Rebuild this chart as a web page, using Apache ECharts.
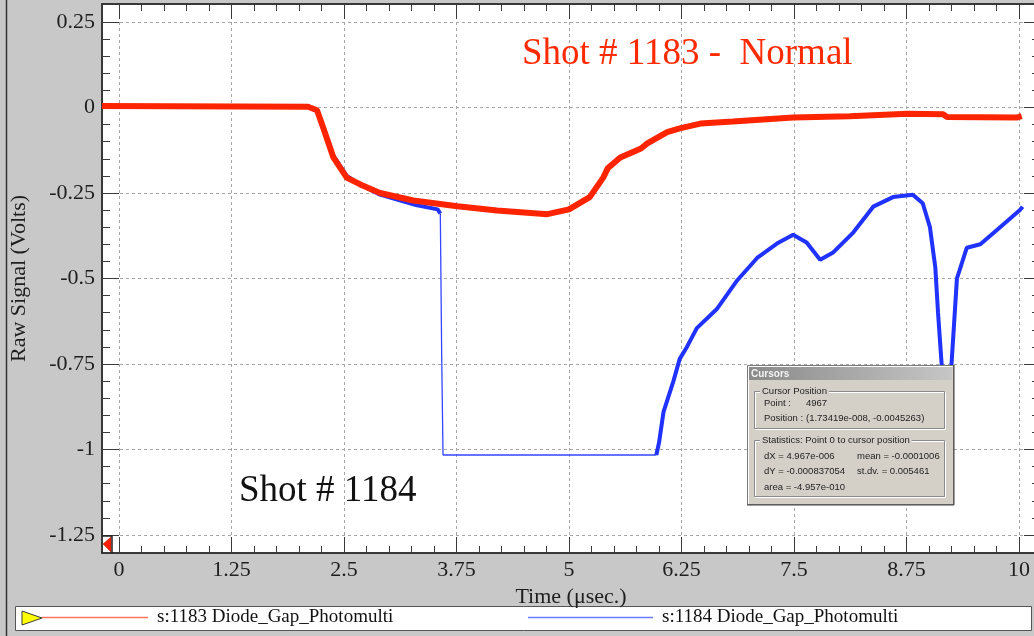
<!doctype html>
<html lang="en">
<head>
<meta charset="utf-8">
<title>Shot # 1183 / 1184 Diode_Gap_Photomulti</title>
<script src="https://cdn.jsdelivr.net/npm/echarts@6.0.0/dist/echarts.min.js"></script>
<style>
  html, body { margin: 0; padding: 0; background: #c8c8c8; }
  #chart { width: 1034px; height: 636px; }
</style>
</head>
<body>
<div id="chart"></div>
<script>
// values: time in usec, signal in volts
var time1183 = [-0.19, 2.1, 2.2, 2.27, 2.38, 2.53, 2.68, 2.9, 3.27, 3.76, 4.2, 4.76, 5.0, 5.23, 5.38, 5.43, 5.57, 5.8, 5.87, 6.09, 6.23, 6.46, 6.82, 7.49, 8.12, 8.76, 9.16, 9.2, 9.98, 10.03];
var signal1183 = [0.004, 0.002, -0.008, -0.06, -0.145, -0.205, -0.225, -0.25, -0.272, -0.289, -0.301, -0.312, -0.298, -0.262, -0.205, -0.178, -0.146, -0.12, -0.105, -0.072, -0.061, -0.047, -0.041, -0.029, -0.026, -0.018, -0.02, -0.028, -0.029, -0.025];

// shot 1184: before the drop, the saturated part, and the recovery
var time1184a = [-0.19, 2.1, 2.2, 2.27, 2.38, 2.53, 2.68, 2.9, 3.1, 3.3, 3.54, 3.57];
var signal1184a = [0.003, 0.002, -0.01, -0.06, -0.14, -0.2, -0.225, -0.255, -0.27, -0.285, -0.298, -0.31];
var time1184sat = [3.57, 3.585, 3.6, 5.97];
var signal1184sat = [-0.31, -0.72, -1.016, -1.016];
var time1184b = [5.97, 6.0, 6.05, 6.16, 6.23, 6.31, 6.42, 6.64, 6.87, 7.09, 7.31, 7.49, 7.64, 7.79, 7.93, 8.16, 8.38, 8.6, 8.82, 8.93, 9.01, 9.07, 9.1, 9.14, 9.19, 9.25, 9.31, 9.42, 9.57, 9.79, 10.01, 10.04];
var signal1184b = [-1.016, -0.98, -0.89, -0.8, -0.735, -0.7, -0.645, -0.59, -0.505, -0.44, -0.398, -0.372, -0.395, -0.445, -0.425, -0.365, -0.29, -0.262, -0.255, -0.28, -0.35, -0.468, -0.6, -0.75, -0.95, -0.75, -0.5, -0.41, -0.4, -0.35, -0.3, -0.29];

var xTicks = [0, 1.25, 2.5, 3.75, 5, 6.25, 7.5, 8.75, 10];
var yTicks = [-1.25, -1, -0.75, -0.5, -0.25, 0, 0.25];

var name1183 = 's:1183 Diode_Gap_Photomulti';
var name1184 = 's:1184 Diode_Gap_Photomulti';

var X_MIN = -0.189, X_MAX = 10.233;
var Y_MIN = -1.3025, Y_MAX = 0.3025;

var serif = "'Liberation Serif', 'Times New Roman', serif";
var sans = "'Liberation Sans', Arial, sans-serif";

function pairs(xs, ys) {
  return xs.map(function (x, i) { return [x, ys[i]]; });
}

// 4 minor ticks between two major ticks
function minorOf(ticks) {
  var out = [];
  for (var i = 0; i < ticks.length - 1; i++) {
    var step = (ticks[i + 1] - ticks[i]) / 5;
    for (var j = 1; j < 5; j++) out.push(+(ticks[i] + j * step).toFixed(4));
  }
  return out;
}
var xMinor = minorOf(xTicks);
var yMinor = minorOf(yTicks);

function tickAxis(pos, min, max, ticks, len, withLine) {
  return {
    type: 'value', position: pos, min: min, max: max,
    axisLine: { show: withLine, onZero: false, lineStyle: { color: '#2e2e2e', width: 1.5 } },
    axisTick: { show: true, customValues: ticks, inside: true, length: len, lineStyle: { color: '#3a3a3a', width: 1 } },
    axisLabel: { show: false },
    splitLine: { show: false }
  };
}

var chart = echarts.init(document.getElementById('chart'), null, { renderer: 'canvas' });

var xMain = tickAxis('bottom', X_MIN, X_MAX, xTicks, 16, true);
xMain.axisLabel = { show: true, customValues: xTicks, margin: 6, color: '#1e1e1e', fontFamily: serif, fontSize: 22 };
xMain.splitLine = { show: true, lineStyle: { type: [3, 3], color: '#a6a6a6', width: 1 } };
xMain.name = 'Time (\u03bcsec.)';
xMain.nameLocation = 'middle';
xMain.nameGap = 25;
xMain.nameTextStyle = { color: '#1e1e1e', fontFamily: serif, fontSize: 22 };

var yMain = tickAxis('left', Y_MIN, Y_MAX, yTicks, 17, true);
yMain.axisLabel = { show: true, customValues: yTicks, margin: 7, color: '#1e1e1e', fontFamily: serif, fontSize: 22 };
yMain.splitLine = { show: true, lineStyle: { type: [3, 3], color: '#a6a6a6', width: 1 } };
yMain.name = 'Raw Signal (Volts)';
yMain.nameLocation = 'middle';
yMain.nameGap = 72;
yMain.nameTextStyle = { color: '#1e1e1e', fontFamily: serif, fontSize: 22 };

var option = {
  backgroundColor: '#c8c8c8',
  animation: false,
  grid: {
    left: 102, right: -6, top: 4, bottom: 83,
    outerBoundsMode: 'none', containLabel: false,
    show: true, backgroundColor: '#ffffff', borderColor: '#2e2e2e', borderWidth: 1.5
  },
  xAxis: [
    xMain,
    tickAxis('bottom', X_MIN, X_MAX, xMinor, 7, false),
    tickAxis('top', X_MIN, X_MAX, xTicks, 15, true),
    tickAxis('top', X_MIN, X_MAX, xMinor, 7, false)
  ],
  yAxis: [
    yMain,
    tickAxis('left', Y_MIN, Y_MAX, yMinor, 8, false),
    tickAxis('right', Y_MIN, Y_MAX, yTicks, 16, true),
    tickAxis('right', Y_MIN, Y_MAX, yMinor, 8, false)
  ],
  legend: [
    {
      left: 42, top: 608, padding: 0, itemWidth: 106, itemHeight: 1.5, itemGap: 0,
      selectedMode: false,
      textStyle: { fontFamily: serif, fontSize: 19, color: '#111', padding: [0, 0, 0, 4] },
      data: [{ name: name1183, icon: 'rect', itemStyle: { color: '#ff7660' } }]
    },
    {
      left: 528, top: 608, padding: 0, itemWidth: 125, itemHeight: 1.5, itemGap: 0,
      selectedMode: false,
      textStyle: { fontFamily: serif, fontSize: 19, color: '#111', padding: [0, 0, 0, 4] },
      data: [{ name: name1184, icon: 'rect', itemStyle: { color: '#6b7bff' } }]
    }
  ],
  series: [
    {
      name: name1184, type: 'line', data: pairs(time1184a, signal1184a),
      showSymbol: false, lineStyle: { color: '#1f32ff', width: 4 }, itemStyle: { color: '#1f32ff' }, z: 2
    },
    {
      name: name1184, type: 'line', data: pairs(time1184sat, signal1184sat),
      showSymbol: false, lineStyle: { color: '#3446ff', width: 1.3 }, itemStyle: { color: '#3446ff' }, z: 2
    },
    {
      name: name1184, type: 'line', data: pairs(time1184b, signal1184b),
      showSymbol: false, lineStyle: { color: '#1f32ff', width: 4 }, itemStyle: { color: '#1f32ff' }, z: 2
    },
    {
      name: name1183, type: 'line', data: pairs(time1183, signal1183),
      showSymbol: false, lineStyle: { color: '#ff2400', width: 6 }, itemStyle: { color: '#ff2400' }, z: 3
    }
  ],
  graphic: [
    // outer frame line on the left
    { type: 'line', shape: { x1: 6.5, y1: 0, x2: 6.5, y2: 636 }, style: { stroke: '#333', lineWidth: 1.5 }, z: 10 },
    // legend box
    { type: 'rect', shape: { x: 15.5, y: 606.5, width: 1016, height: 24 }, style: { fill: '#fff', stroke: '#555', lineWidth: 1 }, z: 0 },
    { type: 'polygon', shape: { points: [[22, 611], [22, 625], [42, 618]] }, style: { fill: '#ffff00', stroke: '#3a3a3a', lineWidth: 1 }, z: 10 },
    // cursor marker at bottom left of the plot
    { type: 'polygon', shape: { points: [[103, 544], [111, 537], [111, 552]] }, style: { fill: '#ff2000', stroke: '#b01000', lineWidth: 0.5 }, z: 10 },
    { type: 'line', shape: { x1: 112, y1: 536, x2: 112, y2: 553 }, style: { stroke: '#222', lineWidth: 1.5 }, z: 10 },
    { type: 'line', shape: { x1: 102, y1: 536, x2: 112, y2: 536 }, style: { stroke: '#222', lineWidth: 1.5 }, z: 10 },
    // annotations
    { type: 'text', x: 522, y: 54, style: { text: 'Shot # 1183 -  Normal', fill: '#ff2a00', font: '37px ' + serif, verticalAlign: 'middle' }, z: 10 },
    { type: 'text', x: 239, y: 491, style: { text: 'Shot # 1184', fill: '#111', font: '37px ' + serif, verticalAlign: 'middle' }, z: 10 },
    // the "Cursors" dialog
    {
      type: 'group', x: 747, y: 365, z: 100,
      children: [
        { type: 'rect', shape: { x: 0.5, y: 0.5, width: 206, height: 139 }, style: { fill: '#d4d0c8', stroke: '#7a7a7a', lineWidth: 1 }, z: 100 },
        { type: 'line', shape: { x1: 1.5, y1: 1.5, x2: 205.5, y2: 1.5 }, style: { stroke: '#fff', lineWidth: 1 }, z: 101 },
        { type: 'line', shape: { x1: 1.5, y1: 1.5, x2: 1.5, y2: 138.5 }, style: { stroke: '#fff', lineWidth: 1 }, z: 101 },
        { type: 'line', shape: { x1: 0, y1: 140, x2: 207, y2: 140 }, style: { stroke: '#404040', lineWidth: 1 }, z: 101 },
        { type: 'line', shape: { x1: 207, y1: 0, x2: 207, y2: 140 }, style: { stroke: '#404040', lineWidth: 1 }, z: 101 },
        {
          type: 'rect', shape: { x: 2, y: 2, width: 203, height: 13 }, z: 101,
          style: { fill: { type: 'linear', x: 0, y: 0, x2: 1, y2: 0, colorStops: [{ offset: 0, color: '#8a8a8a' }, { offset: 1, color: '#c6c6c6' }] } }
        },
        { type: 'text', x: 4, y: 9, style: { text: 'Cursors', fill: '#f2f2f2', font: 'bold 10px ' + sans, verticalAlign: 'middle' }, z: 102 },

        { type: 'rect', shape: { x: 8.5, y: 27.5, width: 190, height: 37 }, style: { fill: 'none', stroke: '#fff', lineWidth: 1 }, z: 101 },
        { type: 'rect', shape: { x: 7.5, y: 26.5, width: 190, height: 37 }, style: { fill: 'none', stroke: '#8a8a8a', lineWidth: 1 }, z: 101 },
        { type: 'text', x: 13, y: 26, style: { text: 'Cursor Position', fill: '#222', font: '9.5px ' + sans, verticalAlign: 'middle', backgroundColor: '#d4d0c8', padding: [1, 2] }, z: 102 },
        { type: 'text', x: 17, y: 38, style: { text: 'Point :', fill: '#222', font: '9.5px ' + sans, verticalAlign: 'middle' }, z: 102 },
        { type: 'text', x: 59, y: 38, style: { text: '4967', fill: '#222', font: '9.5px ' + sans, verticalAlign: 'middle' }, z: 102 },
        { type: 'text', x: 17, y: 53, style: { text: 'Position :', fill: '#222', font: '9.5px ' + sans, verticalAlign: 'middle' }, z: 102 },
        { type: 'text', x: 59, y: 53, style: { text: '(1.73419e-008, -0.0045263)', fill: '#222', font: '9.5px ' + sans, verticalAlign: 'middle' }, z: 102 },

        { type: 'rect', shape: { x: 8.5, y: 76.5, width: 190, height: 56 }, style: { fill: 'none', stroke: '#fff', lineWidth: 1 }, z: 101 },
        { type: 'rect', shape: { x: 7.5, y: 75.5, width: 190, height: 56 }, style: { fill: 'none', stroke: '#8a8a8a', lineWidth: 1 }, z: 101 },
        { type: 'text', x: 13, y: 75, style: { text: 'Statistics: Point 0 to cursor position', fill: '#222', font: '9.5px ' + sans, verticalAlign: 'middle', backgroundColor: '#d4d0c8', padding: [1, 2] }, z: 102 },
        { type: 'text', x: 17, y: 91, style: { text: 'dX = 4.967e-006', fill: '#222', font: '9.5px ' + sans, verticalAlign: 'middle' }, z: 102 },
        { type: 'text', x: 110, y: 91, style: { text: 'mean = -0.0001006', fill: '#222', font: '9.5px ' + sans, verticalAlign: 'middle' }, z: 102 },
        { type: 'text', x: 17, y: 106, style: { text: 'dY = -0.000837054', fill: '#222', font: '9.5px ' + sans, verticalAlign: 'middle' }, z: 102 },
        { type: 'text', x: 110, y: 106, style: { text: 'st.dv. = 0.005461', fill: '#222', font: '9.5px ' + sans, verticalAlign: 'middle' }, z: 102 },
        { type: 'text', x: 17, y: 122, style: { text: 'area = -4.957e-010', fill: '#222', font: '9.5px ' + sans, verticalAlign: 'middle' }, z: 102 }
      ]
    }
  ]
};

chart.setOption(option);
window.addEventListener('resize', chart.resize);
</script>
</body>
</html>
